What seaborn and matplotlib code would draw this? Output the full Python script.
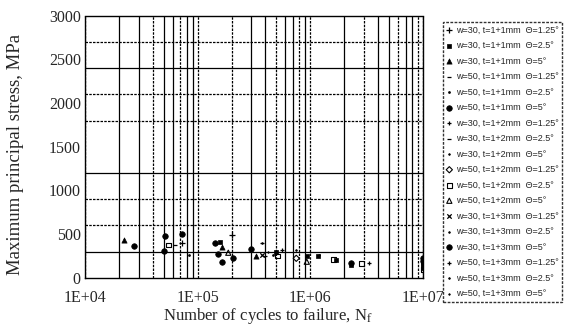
import numpy as np
import pandas as pd
import matplotlib
matplotlib.use("Agg")
import matplotlib.pyplot as plt
from matplotlib.ticker import LogLocator, FixedLocator, MultipleLocator, FuncFormatter, NullFormatter
import seaborn as sns

# ---- data ----
series_labels = [
    "w=30, t=1+1mm  Θ=1.25°", "w=30, t=1+1mm  Θ=2.5°", "w=30, t=1+1mm  Θ=5°",
    "w=50, t=1+1mm  Θ=1.25°", "w=50, t=1+1mm  Θ=2.5°", "w=50, t=1+1mm  Θ=5°",
    "w=30, t=1+2mm  Θ=1.25°", "w=30, t=1+2mm  Θ=2.5°", "w=30, t=1+2mm  Θ=5°",
    "w=50, t=1+2mm  Θ=1.25°", "w=50, t=1+2mm  Θ=2.5°", "w=50, t=1+2mm  Θ=5°",
    "w=30, t=1+3mm  Θ=1.25°", "w=30, t=1+3mm  Θ=2.5°", "w=30, t=1+3mm  Θ=5°",
    "w=50, t=1+3mm  Θ=1.25°", "w=50, t=1+3mm  Θ=2.5°", "w=50, t=1+3mm  Θ=5°",
]
cycles = [
    [2.03e5, 7.2e4],
    [1.58e5, 5.0e5, 9.3e5, 1.17e6, 1.7e6, 2.3e6, 1.0e7, 1.0e7, 1.0e7],
    [2.23e4, 1.63e5, 3.3e5],
    [6.3e4, 3.7e5],
    [8.3e4, 4.7e5],
    [2.7e4, 5.1e4, 7.2e4, 5.0e4, 1.42e5, 1.53e5, 1.63e5, 2.06e5],
    [5.65e5],
    [3.95e5],
    [7.5e5],
    [7.5e5],
    [5.5e4, 5.1e5, 1.6e6, 2.85e6, 1.0e7],
    [1.87e5, 9.3e5],
    [3.7e5],
    [3.7e5],
    [3.0e5, 2.3e6, 1.0e7, 1.0e7],
    [3.3e6],
    [1.2e6],
    [4.2e5],
]
stress = [
    [489, 394],
    [412, 298, 249, 249, 203, 145, 165, 140, 110],
    [432, 355, 252],
    [375, 400],
    [260, 260],
    [363, 478, 500, 309, 394, 271, 183, 222],
    [317],
    [249],
    [317],
    [222],
    [375, 249, 210, 165, 95],
    [286, 183],
    [265],
    [400],
    [325, 172, 220, 190],
    [165],
    [262],
    [300],
]
x_tick_values = [1e4, 1e5, 1e6, 1e7]
x_tick_labels = ["1E+04", "1E+05", "1E+06", "1E+07"]
y_tick_values = [0, 500, 1000, 1500, 2000, 2500, 3000]

# marker styles: (marker, size, filled)
styles = [
    ("+", 14, True), ("s", 10, True), ("^", 14, True),
    ("_", 10, True), (".", 8, True), ("o", 16, True),
    ("+", 12, True), ("_", 10, True), (".", 6, True),
    ("D", 10, False), ("s", 12, False), ("^", 14, False),
    ("x", 10, True), (".", 6, True), ("o", 16, True),
    ("+", 12, True), (".", 6, True), (".", 5, True),
]

rows = []
for lab, xs, ys in zip(series_labels, cycles, stress):
    for xv, yv in zip(xs, ys):
        rows.append({"series": lab, "N": xv, "S": yv})
df = pd.DataFrame(rows)

sns.set_style("white")
plt.rcParams["font.family"] = ["Liberation Serif", "DejaVu Serif"]
plt.rcParams["mathtext.fontset"] = "stix"

fig = plt.figure(figsize=(5.65, 3.27), dpi=100)
ax = fig.add_axes([85 / 565, 1 - 277.7 / 327, (423 - 85) / 565, (277.7 - 15.7) / 327])

for lab, (mk, sz, filled) in zip(series_labels, styles):
    sub = df[df["series"] == lab]
    if mk in ("+", "x", "_"):
        sns.scatterplot(data=sub, x="N", y="S", marker=mk, s=sz, color="black",
                        linewidth=0.9, ax=ax, label=lab, legend=False)
    elif filled:
        sns.scatterplot(data=sub, x="N", y="S", marker=mk, s=sz, color="black",
                        edgecolor="black", linewidth=0.5, ax=ax, label=lab, legend=False)
    else:
        sns.scatterplot(data=sub, x="N", y="S", marker=mk, s=sz, color="black",
                        facecolor="none", edgecolor="black", linewidth=0.8,
                        ax=ax, label=lab, legend=False)

ax.set_xscale("log")
ax.set_xlim(1e4, 1e7)
ax.set_ylim(0, 3000)
ax.xaxis.set_major_locator(FixedLocator(x_tick_values))
ax.xaxis.set_major_formatter(FuncFormatter(lambda v, p: x_tick_labels[x_tick_values.index(v)] if v in x_tick_values else ""))
ax.xaxis.set_minor_locator(LogLocator(base=10, subs=np.arange(2, 10)))
ax.xaxis.set_minor_formatter(NullFormatter())
ax.yaxis.set_major_locator(FixedLocator(y_tick_values))
ax.yaxis.set_minor_locator(MultipleLocator(300))

ax.grid(False)
ax.grid(True, which="both", axis="x", color="black", linewidth=0.9)
ax.grid(True, which="minor", axis="y", color="black", linewidth=0.9)

# alternate solid / dashed grid lines, like the scanned original
for t in ax.xaxis.get_major_ticks():
    t.gridline.set_linestyle((0, (2, 1)))
for i, t in enumerate(ax.xaxis.get_minor_ticks()):
    t.gridline.set_linestyle("-" if i % 3 != 1 else (0, (2, 1)))
for i, t in enumerate(ax.yaxis.get_minor_ticks()):
    t.gridline.set_linestyle("-" if i % 3 == 1 else (0, (2, 1)))

ax.tick_params(axis="both", which="both", length=0)
ax.tick_params(axis="x", which="major", pad=9, labelsize=11.5)
ax.tick_params(axis="y", which="major", pad=3, labelsize=11.5)

for side in ["top", "left", "right"]:
    ax.spines[side].set_linestyle((0, (2, 1)))
for sp in ax.spines.values():
    sp.set_color("black")
    sp.set_linewidth(1.0)

ax.set_xlabel("Number of cycles to failure, N$_\\mathrm{f}$", fontsize=12, va="center")
ax.set_ylabel("Maximum principal stress, MPa", fontsize=13.5)
ax.xaxis.set_label_coords(0.54, -(316 - 277.7) / 262)
ax.yaxis.set_label_coords(-(85 - 24) / 338, 0.47)

handles, labels = ax.get_legend_handles_labels()
if ax.get_legend() is not None:
    ax.get_legend().remove()
leg = fig.legend(handles, labels, loc="upper left", bbox_to_anchor=(443 / 565, 1 - 22 / 327),
                 prop={"family": "Liberation Sans", "size": 6.5},
                 frameon=True, fancybox=False, edgecolor="black",
                 handlelength=0.6, handletextpad=0.4, borderpad=0.4,
                 labelspacing=0.72, borderaxespad=0, markerscale=1.0)
leg.get_frame().set_linestyle((0, (2, 1)))
leg.get_frame().set_linewidth(1.0)

fig.savefig("out.png", dpi=100)
